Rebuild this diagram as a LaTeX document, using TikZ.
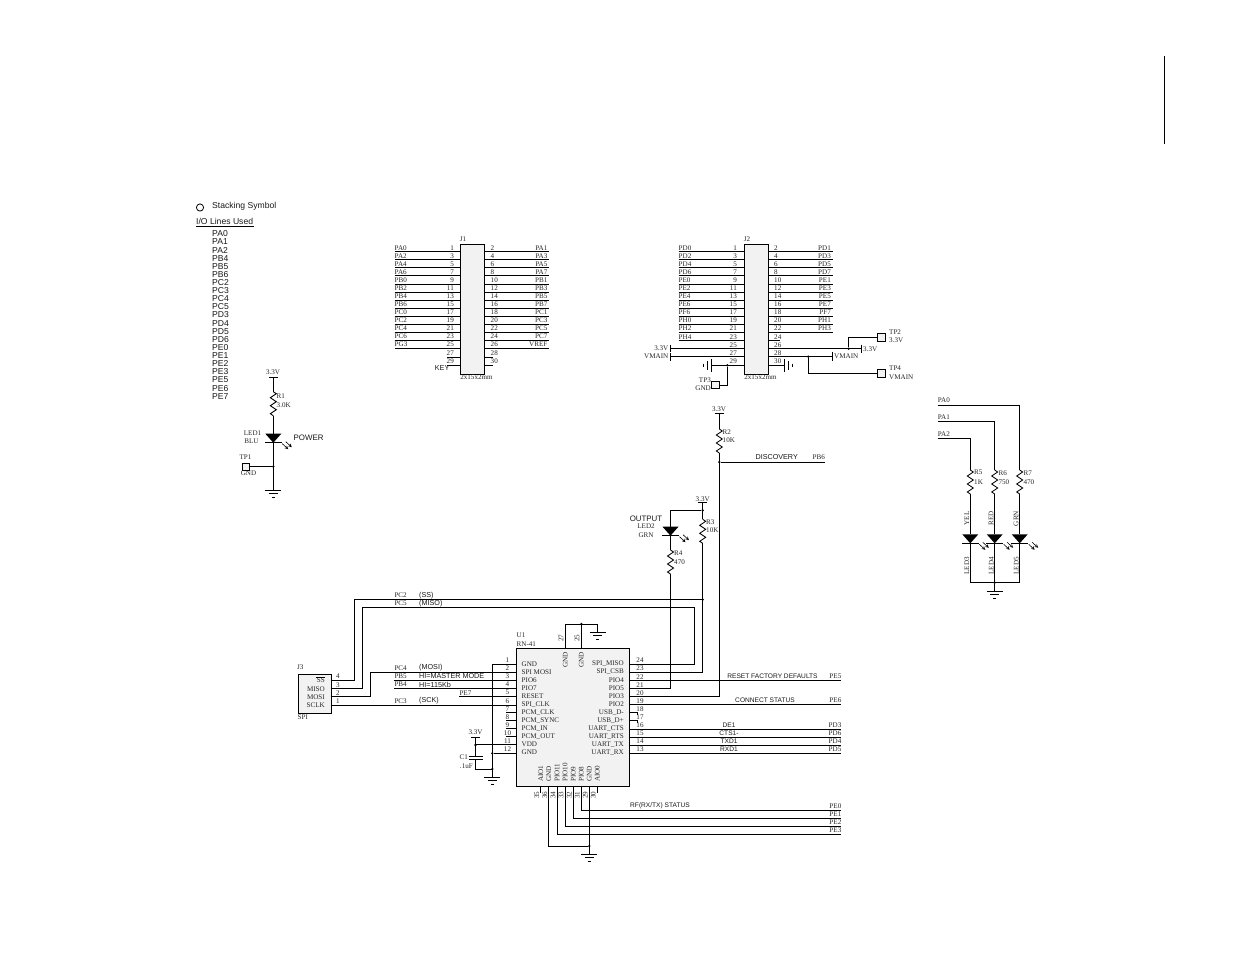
\documentclass[tikz,border=0pt]{standalone}
\usepackage{fontspec}
\setmainfont{Liberation Serif}
\newfontfamily\arialf{Liberation Sans}
\begin{document}
\begin{tikzpicture}[x=1pt,y=-1pt,
  wire/.style={line width=0.85pt,line cap=butt,black},
  part/.style={draw=black,line width=0.9pt,fill=black!5},
  bar/.style={line width=0.85pt,black},
  ser/.style={font=\fontsize{7.1}{8}\selectfont,inner sep=0pt,text=black!85},
  sans/.style={font=\arialf\fontsize{6.6}{7}\selectfont,inner sep=0pt,text=black!90},
  sanst/.style={font=\arialf\fontsize{7.2}{8}\selectfont,inner sep=0pt,text=black!90},
  sansb/.style={font=\arialf\fontsize{8.6}{9}\selectfont,inner sep=0pt,text=black!90},
  dotn/.style={circle,fill=black,inner sep=0pt,minimum size=2.6pt},
]
\useasboundingbox (0,0) rectangle (1235,954);
\fill[white] (0,0) rectangle (1235,954);
\newcommand{\gnd}[2]{\draw[bar] (#1-8,#2) -- (#1+8,#2); \draw[bar] (#1-4.5,#2+3.5) -- (#1+4.5,#2+3.5); \draw[bar] (#1-1.5,#2+7) -- (#1+1.5,#2+7);}
\newcommand{\res}[2]{\draw[wire] (#1,#2) -- (#1+3,#2+2) -- (#1-3,#2+6) -- (#1+3,#2+10) -- (#1-3,#2+14) -- (#1+3,#2+18) -- (#1-3,#2+22) -- (#1,#2+24);}
\newcommand{\led}[2]{\fill[black] (#1-8,#2) -- (#1+8,#2) -- (#1,#2+9) -- cycle; \draw[bar] (#1-8.5,#2+9) -- (#1+8.5,#2+9);
  \draw[line width=0.6pt,-stealth] (#1+9,#2+10) -- (#1+15,#2+15.5); \draw[line width=0.6pt,-stealth] (#1+12.5,#2+8) -- (#1+18.5,#2+13.5);}

% top right rule
\draw[line width=1.2pt] (1164.5,56) -- (1164.5,144);

% legend
\draw[line width=0.8pt] (200,207.5) circle (3.6);
\node[sansb,anchor=west] at (212,206) {Stacking Symbol};
\node[sansb,anchor=west] (io) at (196,221.7) {I/O Lines Used};
\draw[line width=0.5pt] (196,226.3) -- (254,226.3);
\foreach \t [count=\i from 0] in {PA0,PA1,PA2,PB4,PB5,PB6,PC2,PC3,PC4,PC5,PD3,PD4,PD5,PD6,PE0,PE1,PE2,PE3,PE5,PE6,PE7}
  \node[sansb,anchor=west] at (212,233.8+8.12*\i) {\t};

% J1
\node[part,anchor=north west,minimum width=24pt,minimum height=129.5pt,inner sep=0pt] (J1) at (460.3,244.3) {};
\node[ser,anchor=center] at (463,239.5) {J1};
\node[ser,anchor=center] at (476.5,377) {2x15x2mm};
\foreach \l/\r [count=\i from 0] in {PA0/PA1,PA2/PA3,PA4/PA5,PA6/PA7,PB0/PB1,PB2/PB3,PB4/PB5,PB6/PB7,PC0/PC1,PC2/PC3,PC4/PC5,PC6/PC7,PG3/VREF}{
  \pgfmathsetmacro\yy{251.7+8.06*\i}
  \pgfmathtruncatemacro\na{2*\i+1}\pgfmathtruncatemacro\nb{2*\i+2}
  \draw[wire] (394.5,\yy) -- (460.3,\yy); \draw[wire] (484.3,\yy) -- (548.5,\yy);
  \node[ser,anchor=west] at (394.5,\yy-4) {\l};
  \node[ser,anchor=east] at (547.5,\yy-4) {\r};
  \node[ser,anchor=east] at (454,\yy-4) {\na};
  \node[ser,anchor=west] at (490.5,\yy-4) {\nb};
}
\foreach \i/\na/\nb in {13/27/28,14/29/30}{
  \pgfmathsetmacro\yy{251.7+8.12*\i}
  \draw[wire] (447,\yy) -- (460.3,\yy); \draw[wire] (484.3,\yy) -- (492.5,\yy);
  \node[ser,anchor=east] at (454,\yy-4) {\na};
  \node[ser,anchor=west] at (490.5,\yy-4) {\nb};
}
\node[sanst,anchor=east] at (449.5,368.5) {KEY};

% J2
\node[part,anchor=north west,minimum width=24pt,minimum height=129.5pt,inner sep=0pt] (J2) at (744.3,244.3) {};
\node[ser,anchor=center] at (747,239.5) {J2};
\node[ser,anchor=center] at (760.5,377) {2x15x2mm};
\foreach \l/\r [count=\i from 0] in {PD0/PD1,PD2/PD3,PD4/PD5,PD6/PD7,PE0/PE1,PE2/PE3,PE4/PE5,PE6/PE7,PF6/PF7,PH0/PH1,PH2/PH3}{
  \pgfmathsetmacro\yy{251.7+8.06*\i}
  \pgfmathtruncatemacro\na{2*\i+1}\pgfmathtruncatemacro\nb{2*\i+2}
  \draw[wire] (678.5,\yy) -- (744.3,\yy); \draw[wire] (768.3,\yy) -- (833,\yy);
  \node[ser,anchor=west] at (678.5,\yy-4) {\l};
  \node[ser,anchor=east] at (831,\yy-4) {\r};
  \node[ser,anchor=east] at (737,\yy-4) {\na};
  \node[ser,anchor=west] at (774,\yy-4) {\nb};
}
\draw[wire] (678.5,340.7) -- (744.3,340.7); \node[ser,anchor=west] at (678.5,336.7) {PH4};
\node[ser,anchor=east] at (737,336.7) {23};
\draw[wire] (768.3,340.7) -- (780,340.7); \node[ser,anchor=west] at (774,336.7) {24};
\node[ser,anchor=east] at (737,344.7) {25}; \node[ser,anchor=west] at (774,344.7) {26};
\node[ser,anchor=east] at (737,352.7) {27}; \node[ser,anchor=west] at (774,352.7) {28};
\node[ser,anchor=east] at (737,361) {29}; \node[ser,anchor=west] at (774,361) {30};
% left power
\coordinate (a) at (670,348.7); \coordinate (b) at (670,356.7);
\draw[wire] (a) -- (744.3,348.7); \draw[wire] (b) -- (744.3,356.7);
\draw[bar] (670,345) -- (670,352); \draw[bar] (670,352.8) -- (670,360.5);
\node[ser,anchor=east] at (668.5,348.3) {3.3V};
\node[ser,anchor=east] at (668.5,356.5) {VMAIN};
% left ground
\draw[wire] (711.5,365.3) -- (744.3,365.3);
\draw[bar] (711.5,359) -- (711.5,371.5); \draw[bar] (707.5,361) -- (707.5,369.5); \draw[bar] (703.5,363.5) -- (703.5,367);
\node[dotn] (d3) at (727.3,365.3) {};
\node[part,minimum size=7.5pt,inner sep=0pt] (TP3) at (715.5,385) {};
\draw[wire] (d3) |- (TP3);
\node[ser,anchor=east] at (711,380) {TP3};
\node[ser,anchor=east] at (711,388.5) {GND};
% right power
\node[dotn] (d2) at (848.7,348.7) {};
\node[dotn] (d4) at (808.3,356.7) {};
\draw[wire] (768.3,348.7) -- (861.5,348.7); \draw[bar] (861.7,344.5) -- (861.7,353);
\draw[wire] (768.3,356.7) -- (832.5,356.7); \draw[bar] (832.7,352) -- (832.7,361);
\node[ser,anchor=west] at (863,349) {3.3V};
\node[ser,anchor=west] at (834,356.7) {VMAIN};
\draw[wire] (768.3,365.3) -- (784,365.3);
\draw[bar] (784,359) -- (784,371.5); \draw[bar] (788,361) -- (788,369.5); \draw[bar] (792,363.5) -- (792,367);
\node[part,minimum size=8pt,inner sep=0pt] (TP2) at (881,337) {};
\node[part,minimum size=8pt,inner sep=0pt] (TP4) at (881,373.3) {};
\draw[wire] (d2) |- (TP2); \draw[wire] (d4) |- (TP4);
\node[ser,anchor=west] at (889,332) {TP2}; \node[ser,anchor=west] at (889,340.5) {3.3V};
\node[ser,anchor=west] at (889,368.5) {TP4}; \node[ser,anchor=west] at (889,377) {VMAIN};

% Power LED
\node[ser] at (273,372.3) {3.3V};
\draw[bar] (269,377.3) -- (277.5,377.3);
\draw[wire] (273.3,377.3) -- (273.3,391.7); \res{273.3}{391.7} \draw[wire] (273.3,415.7) -- (273.3,433.7);
\led{273.3}{433.7}
\node[part,minimum size=7pt,inner sep=0pt] (TP1) at (245.5,466.5) {};
\node[dotn] (d1) at (273.3,466.5) {};
\draw[wire] (273.3,442) -- (273.3,490); \draw[wire] (TP1) -- (d1);
\gnd{273.3}{490}
\node[ser,anchor=west] at (276.5,395.7) {R1}; \node[ser,anchor=west] at (276.5,405) {3.0K};
\node[ser,anchor=center] at (252.5,433) {LED1}; \node[ser,anchor=center] at (251.5,441.7) {BLU};
\node[sanst,font=\arialf\fontsize{7.9}{8}\selectfont,anchor=west] at (293.5,437.3) {POWER};
\node[ser,anchor=center] at (245.5,457.5) {TP1}; \node[ser,anchor=center] at (248.5,473.5) {GND};

% Discovery
\node[ser] at (719,409.3) {3.3V};
\draw[bar] (714.7,413.7) -- (723.7,413.7);
\draw[wire] (719.3,413.7) -- (719.3,429); \res{719.3}{429}
\node[dotn] (dd) at (719.3,462) {};
\draw[wire] (719.3,453) -- (719.3,696.3) -- (629.3,696.3);
\draw[wire] (dd) -- (824.5,462);
\node[sanst,anchor=center] at (776.7,457.2) {DISCOVERY};
\node[ser,anchor=east] at (825,457.5) {PB6};
\node[ser,anchor=west] at (722.5,432) {R2}; \node[ser,anchor=west] at (722.5,440) {10K};

% Output LED
\node[ser] at (702.7,498.7) {3.3V};
\draw[bar] (698.3,502.7) -- (707,502.7);
\node[dotn] (d5) at (702.7,510.3) {};
\draw[wire] (702.7,502.7) -- (702.7,519.3); \res{702.7}{519.3}
\draw[wire] (702.7,543.3) -- (702.7,672) -- (629.3,672);
\draw[wire] (d5) -- (670.5,510.3) -- (670.5,526.7);
\led{670.5}{526.7}
\draw[wire] (670.5,535) -- (670.5,550); \res{670.5}{550}
\draw[wire] (670.5,574) -- (670.5,688.3) -- (629.3,688.3);
\node[ser,anchor=west] at (706,521.7) {R3}; \node[ser,anchor=west] at (706,530) {10K};
\node[ser,anchor=west] at (674,553) {R4}; \node[ser,anchor=west] at (674,562) {470};
\node[sanst,font=\arialf\fontsize{7.9}{8}\selectfont,anchor=center] at (646,518.3) {OUTPUT};
\node[ser,anchor=center] at (646,526.5) {LED2}; \node[ser,anchor=center] at (646,534.8) {GRN};

% right LEDs
\foreach \x/\yt/\nm/\rn/\rv/\col/\ln in {970.3/438.7/PA2/R5/1K/YEL/LED3,994.7/421.7/PA1/R6/750/RED/LED4,1019.7/405/PA0/R7/470/GRN/LED5}{
  \draw[wire] (937.7,\yt) -- (\x,\yt) -- (\x,470);
  \res{\x}{470}
  \draw[wire] (\x,494) -- (\x,534.3);
  \led{\x}{534.3}
  \draw[wire] (\x,543) -- (\x,582.7);
  \node[ser,anchor=west] at (937.7,\yt-4.6) {\nm};
  \node[ser,anchor=west] at (\x+3.7,472.7) {\rn};
  \node[ser,anchor=west] at (\x+3.7,481.7) {\rv};
  \node[ser,rotate=90] at (\x-3.6,518.5) {\col};
  \node[ser,rotate=90] at (\x-3.4,565.7) {\ln};
}
\node[dotn] (d6) at (994.7,582.7) {};
\draw[wire] (970.3,582.7) -- (1019.7,582.7); \draw[wire] (d6) -- (994.7,591);
\gnd{994.7}{591}

% J3
\node[part,anchor=north west,minimum width=32.7pt,minimum height=39.6pt,inner sep=0pt] (J3) at (298,673.7) {};
\node[ser,anchor=west] at (297,667) {J3};
\node[ser,anchor=west] at (297.5,716.8) {SPI};
\node[ser,anchor=east] at (325,680.5) {SS}; \draw[line width=0.4pt] (316.3,677) -- (325,677);
\node[ser,anchor=east] at (325,688.7) {MISO};
\node[ser,anchor=east] at (325,696.8) {MOSI};
\node[ser,anchor=east] at (325,705) {SCLK};
\foreach \t/\yy in {4/676.5,3/684.7,2/692.8,1/701.2} \node[ser,anchor=center] at (338,\yy) {\t};
\draw[wire] (330.7,680.3) -- (354.3,680.3) -- (354.3,599.5) -- (702.7,599.5);
\node[dotn] at (702.7,599.5) {};
\draw[wire] (330.7,688.7) -- (362.7,688.7) -- (362.7,607.3) -- (694.3,607.3) -- (694.3,664) -- (629.3,664);
\draw[wire] (330.7,696.7) -- (370.3,696.7) -- (370.3,672.3) -- (516.3,672.3);
\draw[wire] (330.7,705.2) -- (516.3,705.2);
\draw[wire] (394.3,680.3) -- (516.3,680.3);
\draw[wire] (394.3,688.5) -- (516.3,688.5);
\draw[wire] (459.3,696.5) -- (516.3,696.5);
\node[ser,anchor=west] at (394.3,595.5) {PC2}; \node[sanst,anchor=west] at (419,595.5) {(SS)};
\node[ser,anchor=west] at (394.3,603.5) {PC5}; \node[sanst,anchor=west] at (419,603.5) {(MISO)};
\node[ser,anchor=west] at (394.3,667.7) {PC4}; \node[sanst,anchor=west] at (419,668) {(MOSI)};
\node[ser,anchor=west] at (394.3,676.2) {PB5}; \node[sanst,anchor=west] at (419,676.2) {HI=MASTER MODE};
\node[ser,anchor=west] at (394.3,684.5) {PB4}; \node[sanst,anchor=west] at (419,684.5) {HI=115Kb};
\node[ser,anchor=west] at (459.3,692.7) {PE7};
\node[ser,anchor=west] at (394.3,700.8) {PC3}; \node[sanst,anchor=west] at (419,700.8) {(SCK)};

% U1
\node[part,anchor=north west,minimum width=113pt,minimum height=138.3pt,inner sep=0pt] (U1) at (516.3,648) {};
\node[ser,anchor=west] at (516.5,635.5) {U1}; \node[ser,anchor=west] at (516.5,644) {RN-41};
% left pins
\foreach \n/\t [count=\i from 0] in {1/GND,2/SPI MOSI,3/PIO6,4/PIO7,5/RESET,6/SPI\_CLK,7/PCM\_CLK,8/PCM\_SYNC,9/PCM\_IN,10/PCM\_OUT,11/VDD,12/GND}{
  \pgfmathsetmacro\yy{664+8.07*\i}
  \node[ser,anchor=west] at (521.5,\yy-.2) {\t};
  \node[ser,anchor=center] at (507.5,\yy-3.6) {\n};
}
\foreach \t [count=\i from 0] in {SPI\_MISO,SPI\_CSB,PIO4,PIO5,PIO3,PIO2,USB\_D-,USB\_D+,UART\_CTS,UART\_RTS,UART\_TX,UART\_RX}{
  \pgfmathsetmacro\yy{664+8.07*\i}
  \node[ser,anchor=east] at (624,\yy-.2) {\t};
}
\foreach \n [count=\i from 0] in {24,23,22,21,20,19,18,17,16,15,14,13}{
  \pgfmathsetmacro\yy{660.5+8.07*\i}
  \node[ser,anchor=center] at (640,\yy) {\n};
}
\foreach \yy in {712.5,720.5,728.6,736.7}{ \draw[wire] (506,\yy) -- (516.3,\yy); }
\draw[wire] (475.3,744.7) -- (516.3,744.7);
\draw[wire] (492.3,664) -- (516.3,664);
\node[dotn] (j12) at (492.3,753.3) {};
\draw[wire] (j12) -- (516.3,753.3);
\draw[wire] (492.3,664) -- (492.3,777);
\gnd{492.3}{777}
\node[ser] at (475.5,732.5) {3.3V};
\draw[bar] (470.5,737) -- (479.5,737);
\node[dotn] at (475.5,745) {};
\node[dotn] at (492.3,769) {};
\draw[wire] (475.5,737) -- (475.5,756);
\draw[bar] (468.5,756) -- (483,756); \draw[bar] (468.5,759.2) -- (483,759.2);
\draw[wire] (475.5,759.2) -- (475.5,769) -- (492.3,769);
\node[ser,anchor=east] at (468,757) {C1}; \node[ser,anchor=east] at (473,766) {.1uF};
% right pin wires
\draw[wire] (629.3,680) -- (841,680);
\draw[wire] (629.3,704.7) -- (841,704.7);
\draw[wire] (629.3,712.6) -- (637,712.6) -- (637,714.5);
\draw[wire] (629.3,720.7) -- (637,720.7) -- (637,722.5);
\foreach \t/\yy/\n in {DE1/729/PD3,CTS1-/737/PD6,TXD1/745/PD4,RXD1/753/PD5}{
  \draw[wire] (629.3,\yy) -- (841,\yy);
  \node[sans,anchor=center] at (729,\yy-4) {\t};
  \node[ser,anchor=east] at (841.5,\yy-4) {\n};
}
\node[sans,anchor=center] at (772.5,676.5) {RESET FACTORY DEFAULTS};
\node[ser,anchor=east] at (841.5,676) {PE5};
\node[sans,anchor=center] at (765,700.7) {CONNECT STATUS};
\node[ser,anchor=east] at (841.5,700.5) {PE6};
% top pins
\foreach \x/\n in {565.3/27,581.3/25}{
  \draw[wire] (\x,624) -- (\x,648);
  \node[ser,rotate=90] at (\x-4.3,638) {\n};
  \node[ser,rotate=90,anchor=east] at (\x,652) {GND};
}
\node[dotn] at (581.3,624) {};
\draw[wire] (565.3,624) -- (597.7,624) -- (597.7,632.3);
\gnd{597.7}{632.3}
% bottom
\foreach \x/\t/\n in {540.7/AIO1/35,548.7/GND/36,557/PIO11/34,565/PIO10/33,573.3/PIO9/32,581.3/PIO8/31,589.3/GND/29,597.3/AIO0/30}{
  \node[ser,rotate=90,anchor=west] at (\x,782) {\t};
  \node[ser,rotate=90] at (\x-4,795) {\n};
}
\draw[wire] (540.7,786.3) -- (540.7,793); \draw[wire] (597.3,786.3) -- (597.3,793);
\draw[wire] (581.3,786.3) -- (581.3,810.3) -- (841,810.3);
\draw[wire] (573.3,786.3) -- (573.3,818.3) -- (841,818.3);
\draw[wire] (565,786.3) -- (565,826.3) -- (841,826.3);
\draw[wire] (557,786.3) -- (557,834.3) -- (841,834.3);
\node[dotn] (d7) at (589.3,846) {};
\draw[wire] (548.7,786.3) -- (548.7,846) -- (d7);
\draw[wire] (589.3,786.3) -- (589.3,854);
\gnd{589.3}{854}
\node[sans,anchor=west] at (630,806) {RF(RX/TX) STATUS};
\foreach \n/\yy in {PE0/810.3,PE1/818.3,PE2/826.3,PE3/834.3} \node[ser,anchor=east] at (841.5,\yy-4.2) {\n};
\end{tikzpicture}
\end{document}
